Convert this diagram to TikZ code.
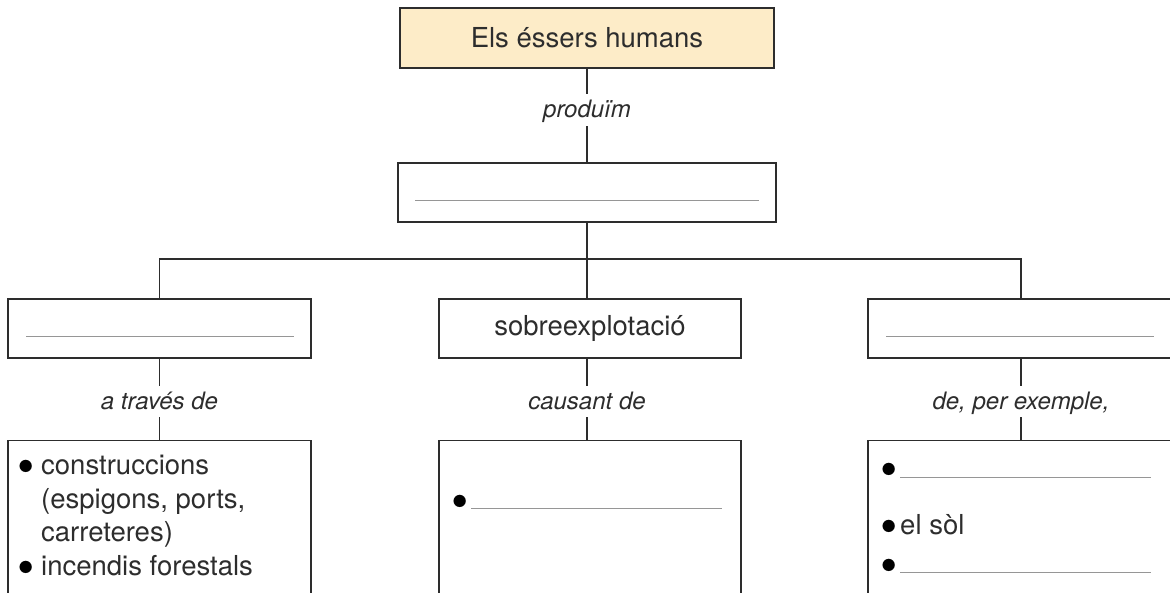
\documentclass[tikz,border=0pt]{standalone}
\usepackage{fontspec}
\setmainfont{TeX Gyre Heros}
\usetikzlibrary{positioning}
\definecolor{boxfill}{RGB}{253,236,200}
\definecolor{inkgray}{RGB}{45,45,45}
\definecolor{blankgray}{RGB}{150,150,150}
\newcommand{\bigdot}{\smash{\raisebox{-9pt}{\textcolor{black}{\scalebox{1.8}{•}}}}}
\newcommand{\bul}{\makebox[24pt][l]{\bigdot}}
\newcommand{\blank}[1]{\makebox[20pt][l]{\bigdot}\textcolor{blankgray}{\rule{#1}{1pt}}}
\tikzset{
	box/.style={draw=inkgray, line width=1.1pt, minimum height=59pt, inner sep=0pt, text=inkgray, font=\fontsize{27.5}{33.5}\selectfont},
	linklabel/.style={inner sep=0pt, minimum height=31pt, text height=19pt, text depth=3pt, text=inkgray, font=\fontsize{24}{26}\selectfont\itshape},
	link/.style={draw=inkgray, line width=1.1pt},
	blankline/.style={draw=blankgray, line width=1pt},
	listtext/.style={anchor=base west, inner sep=0pt, align=left, text=inkgray, font=\fontsize{27.5}{33.5}\selectfont}
}
\begin{document}
\begin{tikzpicture}[x=1pt, y=-1pt]
		\useasboundingbox (0,0) rectangle (1170,593);
		\clip (0,0) rectangle (1170,593);
		
		% Top of the map
		\node[box, fill=boxfill, minimum width=374pt, minimum height=60pt] (humans) at (587,38) {Els éssers humans};
		\node[linklabel, minimum height=32pt] (produim) at (587,110) {produïm};
		\node[box, minimum width=378pt] (residus) at (587,192.5) {};
		\coordinate (split) at (587,259);
		
		% Second row
		\node[box, minimum width=303pt] (left) at (159.5,328.5) {};
		\node[box, minimum width=302pt] (sobre) at (590,328.5) {sobreexplotació};
		\node[box, minimum width=306pt] (right) at (1021,328.5) {};
		
		% Labels below the second row
		\node[linklabel] (atraves) at (159.5,401.5) {a través de};
		\node[linklabel] (causant) at (587,401.5) {causant de};
		\node[linklabel] (exemple) at (1021,401.5) {de, per exemple,};
		
		% Bottom boxes (cut by the page)
		\node[box, anchor=north, minimum width=303pt, minimum height=200pt] (leftlist) at (159.5,440) {};
		\node[box, anchor=north, minimum width=302pt, minimum height=200pt] (midlist) at (590,440) {};
		\node[box, anchor=north, minimum width=306pt, minimum height=200pt] (rightlist) at (1021,440) {};
		
		% Connectors
		\draw[link] (humans.south) -- (produim.north);
		\draw[link] (produim.south) -- (residus.north);
		\draw[link] (residus.south) -- (split);
		\draw[link] (left.north) |- (split) -| (right.north);
		\draw[link] (split) -- (split |- sobre.north);
		\draw[link] (left.south) -- (atraves.north);
		\draw[link] (atraves.south) -- (leftlist.north);
		\draw[link] (sobre.south -| split) -- (causant.north);
		\draw[link] (causant.south) -- (midlist.north -| split);
		\draw[link] (right.south) -- (exemple.north);
		\draw[link] (exemple.south) -- (rightlist.north);
		
		% Blank lines to fill in
		\draw[blankline] ([xshift=18pt,yshift=-8pt]residus.west) -- ([xshift=-18pt,yshift=-8pt]residus.east);
		\draw[blankline] ([xshift=19pt,yshift=-8pt]left.west) -- ([xshift=-18pt,yshift=-8pt]left.east);
		\draw[blankline] ([xshift=19pt,yshift=-8pt]right.west) -- ([xshift=-21pt,yshift=-8pt]right.east);
		
		% Lists
		\node[listtext] (leftitems) at (17,575) {\bul construccions\\\hspace*{24pt}(espigons, ports,\\\hspace*{24pt}carreteres)\\\bul incendis forestals};
		\node[listtext] (miditem) at (451,509) {\blank{251pt}};
		\node[listtext] (rightone) at (880,478) {\blank{251pt}};
		\node[listtext] (righttwo) at (880,534) {\makebox[20pt][l]{\bigdot}el sòl};
		\node[listtext] (rightthree) at (880,573) {\blank{251pt}};
	\end{tikzpicture}
\end{document}
